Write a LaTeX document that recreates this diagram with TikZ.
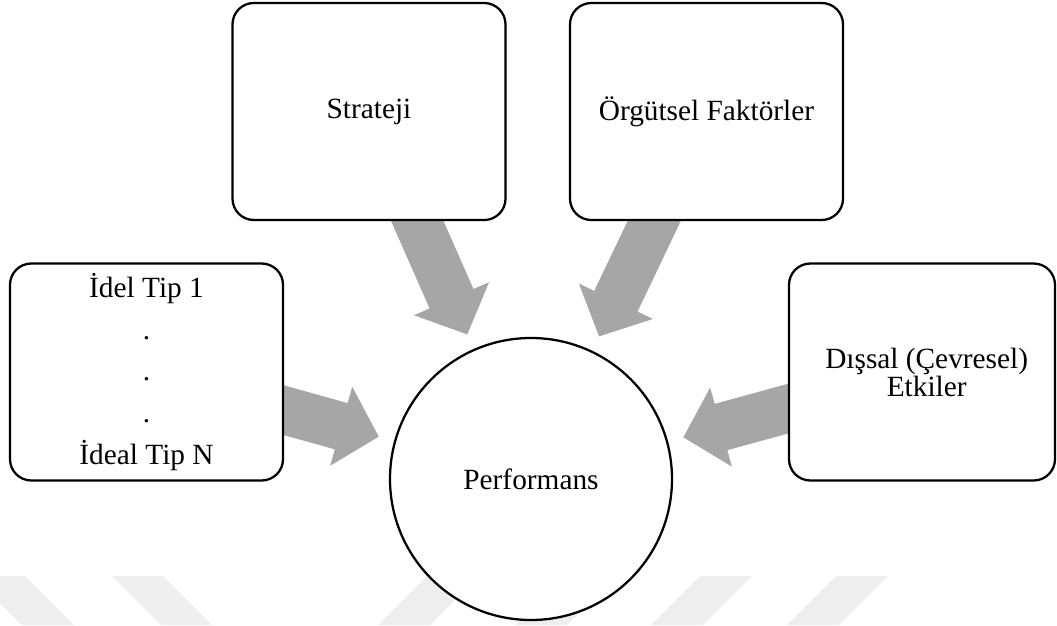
\documentclass[tikz,border=0pt]{standalone}
\usepackage{fontspec}
\setmainfont{Liberation Serif}
\usetikzlibrary{calc,backgrounds}
\definecolor{arrowgray}{RGB}{166,166,166}
\definecolor{markgray}{RGB}{238,238,238}

% broad block arrow from the centre of node #1 towards node #2,
% stopping short of #2
\newcommand\fatarrow[2]{%
  \coordinate (tip) at ($(#2.center)!118.5pt!(#1.center)$);
  \coordinate (hb) at ($(tip)!29.25pt!(#1.center)$);
  \fill[arrowgray]
    ($(#1.center)!18pt!90:(tip)$) -- ($(hb)!18pt!90:(tip)$)
    -- ($(hb)!30.75pt!90:(tip)$) -- (tip)
    -- ($(hb)!30.75pt!-90:(tip)$) -- ($(hb)!18pt!-90:(tip)$)
    -- ($(#1.center)!18pt!-90:(tip)$) -- cycle;
}

\tikzset{
  box/.style={draw, line width=1.7pt, fill=white, rounded corners=16pt,
    minimum width=204.75pt, minimum height=162.75pt, inner sep=0pt,
    align=center, font=\fontsize{22}{18}\selectfont},
  hub/.style={draw, line width=1.7pt, fill=white, circle, inner sep=0pt,
    minimum size=211.5pt, font=\fontsize{22}{18}\selectfont},
  stripe/.style={fill=markgray}
}

\begin{document}
\begin{tikzpicture}[x=0.75pt, y=-0.75pt]
\useasboundingbox (0,0) rectangle (1057,625);

\node[box] (strat) at (369,111.5) {Strateji};
\node[box] (org) at (706.5,111.5) {Örgütsel Faktörler};
\node[box, font=\fontsize{22}{31.3}\selectfont] (ideal) at (146.5,372)
  {İdel Tip 1\\.\\.\\.\\İdeal Tip N};
\node[box, minimum width=199.5pt] (ext) at (922,372)
  {\hspace*{7pt}Dışsal (Çevresel)\\\hspace*{7pt}Etkiler};
\node[hub] (perf) at (531,479) {Performans};

\begin{pgfonlayer}{background}
  % pale diagonal bands along the bottom edge
  \begin{scope}
    \clip (0,0) rectangle (1057,625);
    \fill[stripe] (-27,576) -- (25,576) -- (74,625) -- (22,625) -- cycle;
    \fill[stripe] (112,576) -- (163,576) -- (212,625) -- (161,625) -- cycle;
    \fill[stripe] (427,576) -- (479,576) -- (430,625) -- (378,625) -- cycle;
    \fill[stripe] (564,576) -- (616,576) -- (567,625) -- (515,625) -- cycle;
    \fill[stripe] (700,576) -- (752,576) -- (703,625) -- (651,625) -- cycle;
    \fill[stripe] (836,576) -- (888,576) -- (839,625) -- (787,625) -- cycle;
  \end{scope}
  \fatarrow{ideal}{perf}
  \fatarrow{strat}{perf}
  \fatarrow{org}{perf}
  \fatarrow{ext}{perf}
\end{pgfonlayer}
\end{tikzpicture}
\end{document}
